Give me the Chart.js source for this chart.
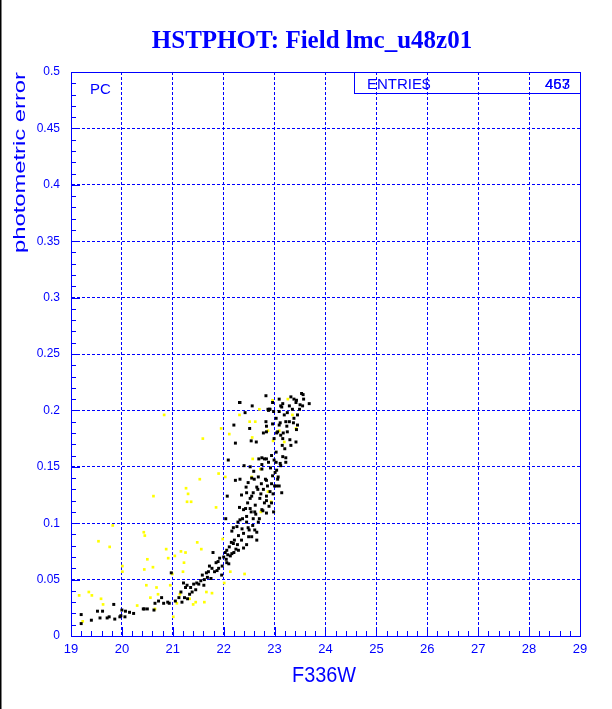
<!DOCTYPE html>
<html>
<head>
<meta charset="utf-8">
<title>HSTPHOT: Field lmc_u48z01</title>
<script src="https://cdn.jsdelivr.net/npm/chart.js@4/dist/chart.umd.min.js"></script>
<style>
  html, body { margin: 0; padding: 0; background: #fff; }
  canvas { display: block; }
</style>
</head>
<body>
<canvas id="phot" width="612" height="709"></canvas>
<script>
/* ── Data ──────────────────────────────────────────────── */

// Black points: F336W magnitude / photometric error
const blackMag = [
  19.20, 19.20, 19.40, 19.52, 19.57, 19.62, 19.71, 19.75, 19.84, 19.86, 19.96, 19.98,
  20.00, 20.06, 20.07, 20.15, 20.23, 20.42, 20.44, 20.50, 20.63, 20.65, 20.72, 20.78,
  20.82, 20.90, 20.93, 20.97, 21.05, 21.12, 21.16, 21.18, 21.21, 21.23, 21.25, 21.28,
  21.29, 21.33, 21.35, 21.38, 21.41, 21.45, 21.47, 21.51, 21.55, 21.58, 21.61, 21.62,
  21.66, 21.68, 21.70, 21.72, 21.75, 21.77, 21.79, 21.82, 21.85, 21.87, 21.89, 21.90,
  21.92, 21.96, 21.97, 22.00, 22.03, 22.05, 22.06, 22.08, 22.10, 22.11, 22.13, 22.15,
  22.16, 22.19, 22.20, 22.21, 22.24, 22.27, 22.28, 22.29, 22.31, 22.32, 22.35, 22.37,
  22.40, 22.43, 22.45, 22.48, 22.49, 22.52, 22.54, 22.57, 22.60, 22.62, 22.65, 22.67,
  22.69, 22.70, 22.73, 22.75, 22.77, 22.80, 22.82, 22.84, 22.86, 22.88, 22.91, 22.94,
  22.96, 22.98, 23.00, 23.03, 23.06, 23.09, 23.12, 23.16, 23.22,
  // upper clump
  22.31, 22.20, 22.23, 22.56, 22.51, 22.54, 22.64, 22.83, 22.87, 22.90, 22.83, 22.84,
  22.96, 22.98, 23.03, 23.06, 23.09, 23.12, 23.16, 23.19, 23.22, 23.25, 23.29, 23.32,
  23.35, 23.38, 23.42, 23.45, 23.49, 23.53, 23.55, 23.57, 23.45, 23.42, 23.32, 23.22,
  23.16, 23.03, 23.09, 23.68, 23.38, 23.29, 23.12, 22.96, 22.99,
  // dense band
  22.32, 22.42, 22.88, 22.91, 23.09, 23.14, 23.25, 23.43, 23.50, 23.56, 23.37, 23.11,
  23.24, 22.84, 22.78, 23.04, 23.17, 23.43, 23.30, 23.15, 22.75, 22.84, 22.99, 23.11,
  22.75, 23.04, 22.52, 22.55, 22.68, 22.84, 22.94, 23.04, 23.14, 22.65, 22.78, 22.45,
  22.55, 22.84, 22.94, 22.39, 22.52, 22.61, 22.75, 22.84, 22.45, 22.58, 22.68, 22.32,
  22.26, 22.48, 22.61, 22.39, 22.55, 22.65, 22.35, 22.19, 22.45, 22.29, 22.16, 22.06,
  22.39,
  // scattered extras
  22.09, 22.07, 22.04, 22.23, 22.36, 22.47, 22.58, 22.71, 22.92, 23.01, 22.63, 22.50,
  22.80, 22.97, 23.07, 22.44, 22.59, 22.74, 22.89, 23.20
];
const blackErr = [
  0.011, 0.019, 0.014, 0.022, 0.016, 0.022, 0.016, 0.017, 0.028, 0.015, 0.017, 0.018,
  0.023, 0.017, 0.022, 0.021, 0.020, 0.024, 0.024, 0.024, 0.023, 0.029, 0.031, 0.034,
  0.029, 0.030, 0.029, 0.056, 0.031, 0.034, 0.039, 0.030, 0.047, 0.034, 0.043, 0.045,
  0.033, 0.037, 0.043, 0.039, 0.046, 0.041, 0.047, 0.046, 0.049, 0.054, 0.045, 0.050,
  0.056, 0.052, 0.057, 0.062, 0.051, 0.060, 0.074, 0.057, 0.065, 0.058, 0.066, 0.060,
  0.069, 0.054, 0.062, 0.070, 0.074, 0.068, 0.065, 0.072, 0.064, 0.079, 0.071, 0.083,
  0.093, 0.096, 0.074, 0.085, 0.077, 0.081, 0.101, 0.089, 0.114, 0.139, 0.125, 0.104,
  0.151, 0.113, 0.101, 0.136, 0.088, 0.122, 0.110, 0.098, 0.139, 0.116, 0.092, 0.130,
  0.157, 0.104, 0.126, 0.148, 0.111, 0.157, 0.139, 0.120, 0.133, 0.154, 0.128, 0.160,
  0.142, 0.110, 0.133, 0.154, 0.139, 0.133, 0.151, 0.159, 0.154,
  // upper clump
  0.207, 0.187, 0.171, 0.204, 0.184, 0.173, 0.172, 0.213, 0.201, 0.201, 0.190, 0.181,
  0.207, 0.199, 0.193, 0.181, 0.199, 0.204, 0.206, 0.196, 0.190, 0.181, 0.204, 0.212,
  0.201, 0.210, 0.207, 0.196, 0.201, 0.215, 0.204, 0.210, 0.187, 0.172, 0.169, 0.158,
  0.175, 0.163, 0.187, 0.206, 0.193, 0.190, 0.178, 0.188, 0.175,
  // dense band
  0.207, 0.198, 0.200, 0.201, 0.210, 0.203, 0.198, 0.209, 0.205, 0.214, 0.189, 0.189,
  0.186, 0.186, 0.180, 0.180, 0.180, 0.183, 0.174, 0.169, 0.158, 0.157, 0.156, 0.153,
  0.152, 0.147, 0.150, 0.140, 0.141, 0.138, 0.135, 0.133, 0.127, 0.132, 0.130, 0.127,
  0.124, 0.124, 0.118, 0.112, 0.113, 0.110, 0.112, 0.109, 0.106, 0.104, 0.101, 0.103,
  0.097, 0.096, 0.094, 0.091, 0.088, 0.085, 0.085, 0.082, 0.081, 0.076, 0.073, 0.076,
  0.078,
  // scattered extras
  0.156, 0.124, 0.104, 0.138, 0.095, 0.118, 0.127, 0.122, 0.149, 0.145, 0.108, 0.094,
  0.118, 0.126, 0.141, 0.132, 0.146, 0.135, 0.115, 0.166
];

// Yellow points
const yellowMag = [
  19.16, 19.23, 19.35, 19.41, 19.54, 19.59, 19.63, 19.76, 19.82, 20.01, 20.01, 20.30,
  20.43, 20.44, 20.45, 20.48, 20.50, 20.56, 20.61, 20.62, 20.65, 20.68, 20.71, 20.83,
  20.87, 20.91, 20.95, 20.99, 21.01, 21.04, 21.08, 21.14, 21.16, 21.20, 21.22, 21.25,
  21.26, 21.30, 21.28, 21.33, 21.36, 21.40, 21.45, 21.48, 21.53, 21.56, 21.59, 21.62,
  21.66, 21.77, 21.85, 21.90, 21.95, 21.98, 22.01, 22.03, 22.11, 22.13, 22.31, 22.41,
  22.51, 22.56, 22.62, 22.70, 22.72, 22.73, 22.87, 22.93, 22.96, 22.97, 23.09, 23.19,
  23.26, 23.35, 23.42, 22.57, 22.55, 22.87
];
const yellowErr = [
  0.036, 0.013, 0.039, 0.036, 0.084, 0.033, 0.028, 0.079, 0.098, 0.062, 0.057, 0.027,
  0.092, 0.059, 0.089, 0.045, 0.068, 0.034, 0.061, 0.124, 0.024, 0.043, 0.037, 0.196,
  0.077, 0.069, 0.045, 0.055, 0.017, 0.071, 0.029, 0.037, 0.075, 0.057, 0.065, 0.074,
  0.131, 0.126, 0.119, 0.033, 0.119, 0.028, 0.030, 0.083, 0.139, 0.077, 0.175, 0.030,
  0.039, 0.038, 0.114, 0.144, 0.184, 0.086, 0.047, 0.141, 0.179, 0.057, 0.196, 0.055,
  0.190, 0.176, 0.190, 0.201, 0.148, 0.110, 0.182, 0.119, 0.209, 0.173, 0.182, 0.172,
  0.210, 0.196, 0.184, 0.157, 0.141, 0.128
];

// Axes
const xRange = [19, 29];
const yRange = [0, 0.5];
const xStep = 1;
const yStep = 0.05;
const xMinorStep = 0.2;
const yMinorStep = 0.01;

const TITLE = "HSTPHOT: Field lmc_u48z01";
const X_TITLE = "F336W";
const Y_TITLE = "photometric error";
const TAG = "PC";
const STAT_LABEL = "ENTRIE$";
const STAT_VALUES = ["463", "457"];   // overstruck in the original

/* ── Helpers ───────────────────────────────────────────── */

const BLUE = "#0000ff";
const SANS = '"Liberation Sans", Arial, sans-serif';

function zip(xs, ys) {
  return xs.map((x, i) => ({ x, y: ys[i] }));
}

/** Draw text stretched horizontally to a target length. */
function fitText(ctx, text, len) {
  const w = ctx.measureText(text).width;
  ctx.save();
  ctx.scale(len / w, 1);
  ctx.fillText(text, 0, 0);
  ctx.restore();
}

/* ── Decorations: frame, inner ticks, titles, stat box ─── */

const paw = {
  id: "paw",
  beforeDraw(chart) {
    const { ctx, width, height } = chart;
    ctx.save();
    ctx.fillStyle = "#fff";
    ctx.fillRect(0, 0, width, height);
    ctx.fillStyle = "#000";
    ctx.fillRect(0, 0, 1.5, height);
    ctx.restore();
  },
  afterDraw(chart) {
    const { ctx, chartArea: a, scales: { x, y } } = chart;
    ctx.save();

    // frame
    ctx.strokeStyle = BLUE;
    ctx.lineWidth = 1;
    ctx.setLineDash([]);
    ctx.strokeRect(a.left + 0.5, a.top + 0.5, a.right - a.left, a.bottom - a.top);

    // inward ticks
    ctx.beginPath();
    for (let v = xRange[0]; v <= xRange[1] + 1e-9; v += xMinorStep) {
      const px = Math.round(x.getPixelForValue(v)) + 0.5;
      const major = Math.abs(v - Math.round(v)) < 1e-6;
      ctx.moveTo(px, a.bottom);
      ctx.lineTo(px, a.bottom - (major ? 9 : 5));
    }
    for (let v = yRange[0]; v <= yRange[1] + 1e-9; v += yMinorStep) {
      const py = Math.round(y.getPixelForValue(v)) + 0.5;
      const major = Math.abs(v / yStep - Math.round(v / yStep)) < 1e-6;
      ctx.moveTo(a.left, py);
      ctx.lineTo(a.left + (major ? 9 : 5), py);
    }
    ctx.stroke();

    ctx.fillStyle = BLUE;

    // main title
    ctx.font = 'bold 25px "Liberation Serif", "Times New Roman", serif';
    ctx.textAlign = "center";
    ctx.textBaseline = "alphabetic";
    ctx.fillText(TITLE, 312, 48);

    // x title
    ctx.font = "22px " + SANS;
    ctx.save();
    ctx.translate(292, 682);
    ctx.textAlign = "left";
    fitText(ctx, X_TITLE, 64);
    ctx.restore();

    // y title, reads upward, ends at top of frame
    ctx.save();
    ctx.translate(25, a.top + 181);
    ctx.rotate(-Math.PI / 2);
    ctx.font = "17px " + SANS;
    ctx.textAlign = "left";
    fitText(ctx, Y_TITLE, 181);
    ctx.restore();

    // tag
    ctx.font = "15px " + SANS;
    ctx.textAlign = "left";
    ctx.fillText(TAG, a.left + 19, a.top + 22);

    // stat box
    const bx = a.right - 226;
    ctx.strokeRect(bx + 0.5, a.top + 0.5, 226, 21);
    ctx.font = "15px " + SANS;
    ctx.fillText(STAT_LABEL, bx + 13, a.top + 17);
    ctx.textAlign = "right";
    for (const s of STAT_VALUES) ctx.fillText(s, a.right - 10, a.top + 17);

    ctx.restore();
  },
};

/* ── Chart ─────────────────────────────────────────────── */

new Chart(document.getElementById("phot"), {
  type: "scatter",
  data: {
    datasets: [
      {
        label: "black",
        data: zip(blackMag, blackErr),
        backgroundColor: "#000",
        pointStyle: "rect",
        pointRadius: 2.1,
        borderWidth: 0,
      },
      {
        label: "yellow",
        data: zip(yellowMag, yellowErr),
        backgroundColor: "#ffff00",
        pointStyle: "rect",
        pointRadius: 1.9,
        borderWidth: 0,
      },
    ],
  },
  options: {
    responsive: false,
    animation: false,
    devicePixelRatio: 1,
    layout: { padding: { top: 72, right: 32, left: 0, bottom: 0 } },
    plugins: { legend: { display: false }, tooltip: { enabled: false } },
    scales: {
      x: {
        type: "linear",
        min: xRange[0],
        max: xRange[1],
        afterFit: (s) => { s.height = 73; },
        ticks: {
          stepSize: xStep,
          color: BLUE,
          font: { family: SANS, size: 13 },
          padding: 6,
        },
        grid: { color: BLUE, lineWidth: 1, drawTicks: false },
        border: { color: BLUE, dash: [3, 2] },
      },
      y: {
        type: "linear",
        min: yRange[0],
        max: yRange[1],
        afterFit: (s) => { s.width = 71; },
        ticks: {
          stepSize: yStep,
          color: BLUE,
          font: { family: SANS, size: 12 },
          padding: 11,
          callback: (v) => String(+v.toFixed(2)),
        },
        grid: { color: BLUE, lineWidth: 1, drawTicks: false },
        border: { color: BLUE, dash: [3, 2] },
      },
    },
  },
  plugins: [paw],
});
</script>
</body>
</html>
